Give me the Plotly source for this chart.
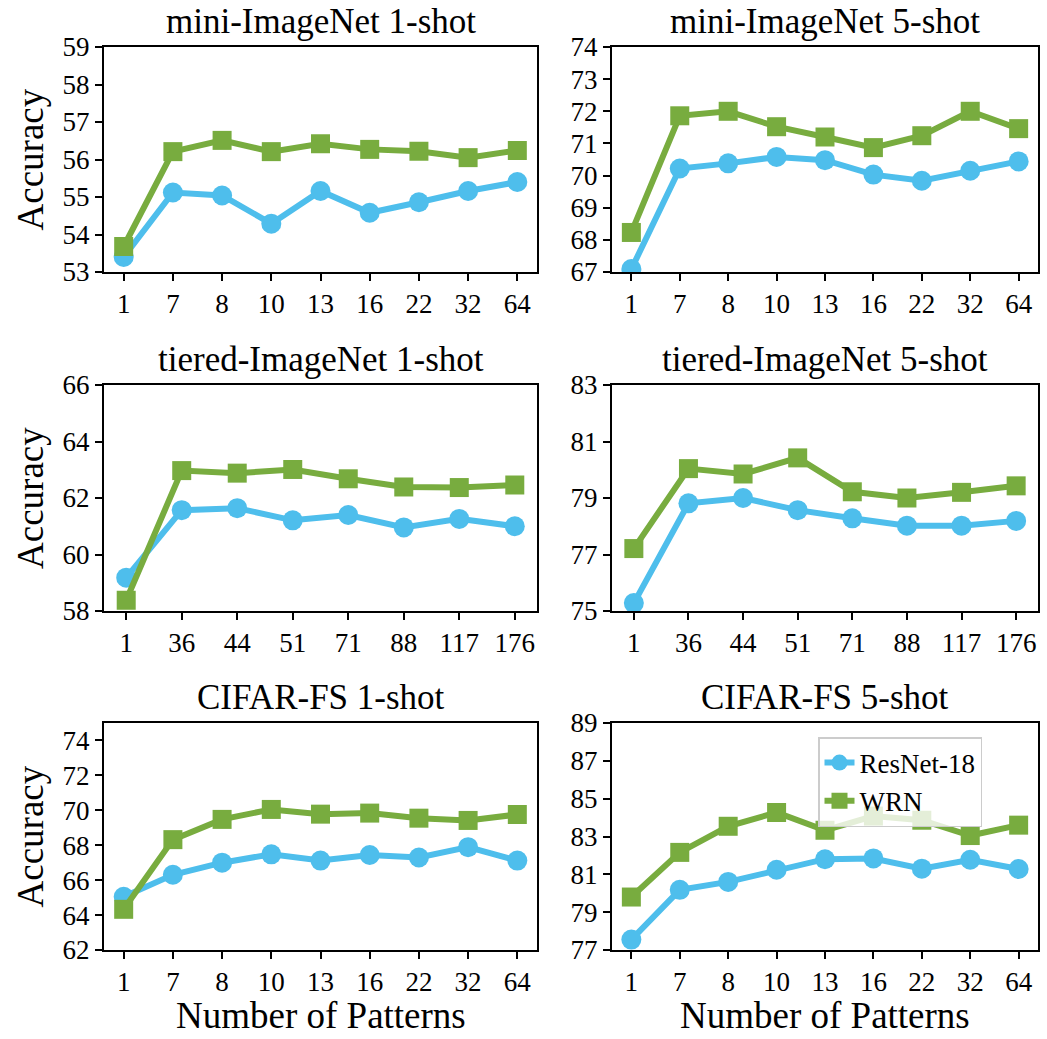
import plotly.graph_objects as go

# ---- data ----
x_mini = ["1", "7", "8", "10", "13", "16", "22", "32", "64"]
x_tiered = ["1", "36", "44", "51", "71", "88", "117", "176"]
x_cifar = ["1", "7", "8", "10", "13", "16", "22", "32", "64"]

mini1_resnet = [53.40, 55.12, 55.04, 54.29, 55.16, 54.58, 54.86, 55.16, 55.40]
mini1_wrn = [53.68, 56.21, 56.51, 56.21, 56.42, 56.27, 56.22, 56.05, 56.24]
mini5_resnet = [67.09, 70.22, 70.38, 70.58, 70.48, 70.03, 69.84, 70.15, 70.44]
mini5_wrn = [68.23, 71.86, 72.00, 71.52, 71.20, 70.87, 71.24, 72.00, 71.46]
tiered1_resnet = [59.18, 61.57, 61.64, 61.21, 61.40, 60.96, 61.26, 61.00]
tiered1_wrn = [58.38, 62.97, 62.88, 63.01, 62.68, 62.39, 62.37, 62.46]
tiered5_resnet = [75.28, 78.81, 79.00, 78.57, 78.28, 78.02, 78.02, 78.19]
tiered5_wrn = [77.21, 80.04, 79.85, 80.42, 79.22, 79.00, 79.20, 79.43]
cifar1_resnet = [65.05, 66.31, 67.00, 67.48, 67.12, 67.44, 67.30, 67.89, 67.12]
cifar1_wrn = [64.33, 68.32, 69.48, 70.05, 69.78, 69.84, 69.55, 69.42, 69.76]
cifar5_resnet = [77.55, 80.18, 80.60, 81.24, 81.80, 81.84, 81.30, 81.77, 81.28]
cifar5_wrn = [79.80, 82.16, 83.54, 84.27, 83.33, 84.08, 83.86, 83.05, 83.60]

titles = ["mini-ImageNet 1-shot", "mini-ImageNet 5-shot",
          "tiered-ImageNet 1-shot", "tiered-ImageNet 5-shot",
          "CIFAR-FS 1-shot", "CIFAR-FS 5-shot"]
y_ranges = [(53, 59, 1), (67, 74, 1), (58, 66, 2), (75, 83, 2), (62, 75, 2), (77, 89, 2)]

panels = [
    (x_mini, mini1_resnet, mini1_wrn),
    (x_mini, mini5_resnet, mini5_wrn),
    (x_tiered, tiered1_resnet, tiered1_wrn),
    (x_tiered, tiered5_resnet, tiered5_wrn),
    (x_cifar, cifar1_resnet, cifar1_wrn),
    (x_cifar, cifar5_resnet, cifar5_wrn),
]

# ---- layout geometry ----
W, H = 1047, 1039
col_px = [(104, 537), (612, 1038)]
row_px = [(47, 272), (385, 611), (723, 950)]

BLUE = "#4ebeec"
GREEN = "#78ac3f"
FONT = "Liberation Serif, Times New Roman, serif"

fig = go.Figure()
annotations = []

for i, (xs, res, wrn) in enumerate(panels):
    r, c = divmod(i, 2)
    n = i + 1
    xa = "x" if n == 1 else f"x{n}"
    ya = "y" if n == 1 else f"y{n}"
    show = (i == 5)
    fig.add_trace(go.Scatter(
        x=xs, y=res, mode="lines+markers", name="ResNet-18",
        line=dict(color=BLUE, width=6),
        marker=dict(symbol="circle", size=20, color=BLUE),
        xaxis=xa, yaxis=ya, showlegend=show, legendrank=1))
    fig.add_trace(go.Scatter(
        x=xs, y=wrn, mode="lines+markers", name="WRN",
        line=dict(color=GREEN, width=6),
        marker=dict(symbol="square", size=19, color=GREEN),
        xaxis=xa, yaxis=ya, showlegend=show, legendrank=2))

    x0, x1 = col_px[c]
    y0, y1 = row_px[r]
    xdom = [x0 / W, x1 / W]
    ydom = [1 - y1 / H, 1 - y0 / H]
    lo, hi, dt = y_ranges[i]
    axis_common = dict(showline=True, linecolor="black", linewidth=2, mirror=True,
                       ticks="outside", ticklen=7, tickwidth=2, tickcolor="black",
                       showgrid=False, zeroline=False, automargin=False,
                       tickfont=dict(family=FONT, size=27, color="black"))
    fig.layout[f"xaxis{'' if n == 1 else n}"] = dict(
        domain=xdom, anchor=ya, type="category",
        range=[-0.4, len(xs) - 1 + 0.4], **axis_common)
    fig.layout[f"yaxis{'' if n == 1 else n}"] = dict(
        domain=ydom, anchor=xa, range=[lo, hi], tick0=lo, dtick=dt, **axis_common)

    annotations.append(dict(
        text=titles[i], xref="paper", yref="paper",
        x=(x0 + x1) / 2 / W, y=1 - y0 / H, yshift=4,
        xanchor="center", yanchor="bottom", showarrow=False,
        font=dict(family=FONT, size=35, color="black")))
    if c == 0:
        annotations.append(dict(
            text="Accuracy", xref="paper", yref="paper",
            x=30 / W, y=1 - (y0 + y1) / 2 / H, textangle=-90,
            xanchor="center", yanchor="middle", showarrow=False,
            font=dict(family=FONT, size=37, color="black")))
    if r == 2:
        annotations.append(dict(
            text="Number of Patterns", xref="paper", yref="paper",
            x=(x0 + x1) / 2 / W, y=0, yshift=1,
            xanchor="center", yanchor="bottom", showarrow=False,
            font=dict(family=FONT, size=37, color="black")))

fig.update_layout(
    width=W, height=H,
    margin=dict(l=0, r=0, t=0, b=0),
    paper_bgcolor="white", plot_bgcolor="white",
    annotations=annotations,
    showlegend=True,
    legend=dict(x=818 / W, y=1 - 737 / H, xanchor="left", yanchor="top",
                bgcolor="rgba(255,255,255,0.8)", bordercolor="#cccccc", borderwidth=1.5,
                font=dict(family=FONT, size=27, color="black"),
                itemsizing="trace", tracegroupgap=0),
)

fig.write_html("out.html")
